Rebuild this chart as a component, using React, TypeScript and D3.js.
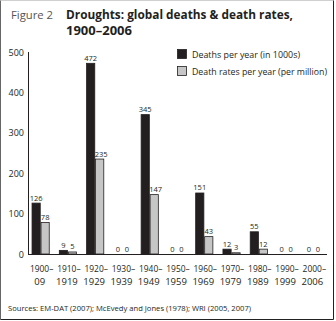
import React from "react";
import * as d3 from "d3";

const periodsTop = ["1900–", "1910–", "1920–", "1930–", "1940–", "1950–", "1960–", "1970–", "1980–", "1990–", "2000–"];
const periodsBottom = ["09", "1919", "1929", "1939", "1949", "1959", "1969", "1979", "1989", "1999", "2006"];
const deaths = [126, 9, 472, 0, 345, 0, 151, 12, 55, 0, 0];
const rates = [78, 5, 235, 0, 147, 0, 43, 3, 12, 0, 0];
const yTicks = [0, 100, 200, 300, 400, 500];
const seriesNames = ["Deaths per year (in 1000s)", "Death rates per year (per million)"];

const W = 336, H = 321;
const FONT = "'Open Sans', 'Noto Sans', sans-serif";

export default function App() {
  const x = d3.scaleBand<number>().domain(d3.range(periodsTop.length)).range([27, 327]).paddingInner(0.34).paddingOuter(0.17);
  const inner = d3.scaleBand<number>().domain([0, 1]).range([0, x.bandwidth()]);
  const y = d3.scaleLinear().domain([0, 500]).range([254, 52]);
  const series = [deaths, rates];
  const fills = ["#231f20", "#c6c6c6"];

  return (
    <svg width={W} height={H} style={{ position: "absolute", left: 0, top: 0, background: "#fff" }} fontFamily={FONT}>
      {/* frame */}
      <line x1={0.5} y1={0.5} x2={333.5} y2={0.5} stroke="#d0d0d0" />
      <line x1={0.5} y1={0.5} x2={0.5} y2={319.5} stroke="#666" />
      <line x1={333.5} y1={0.5} x2={333.5} y2={319.5} stroke="#222" />
      <line x1={0.5} y1={319.5} x2={333.5} y2={319.5} stroke="#222" />

      {/* title */}
      <text x={11} y={18.5} fontSize={11.5} fill="#555" textLength={42} lengthAdjust="spacingAndGlyphs">Figure 2</text>
      <text x={66} y={18.5} fontSize={11.5} fontWeight="bold" fill="#231f20" textLength={227} lengthAdjust="spacingAndGlyphs">Droughts: global deaths &amp; death rates,</text>
      <text x={66} y={34.5} fontSize={11.5} fontWeight="bold" fill="#231f20" textLength={66} lengthAdjust="spacingAndGlyphs">1900–2006</text>

      {/* legend */}
      {seriesNames.map((n, i) => (
        <g key={n}>
          <rect x={177.5} y={49.5 + i * 17} width={9} height={9} fill={fills[i]} stroke="#231f20" strokeWidth={0.8} />
          <text x={192} y={57.5 + i * 17} fontSize={9} fill="#231f20" textLength={i === 0 ? 108 : 135} lengthAdjust="spacingAndGlyphs">{n}</text>
        </g>
      ))}

      {/* y axis */}
      <line x1={28.5} y1={y(500)} x2={28.5} y2={y(0)} stroke="#231f20" strokeWidth={1} />
      <line x1={28} y1={y(0) + 0.5} x2={327} y2={y(0) + 0.5} stroke="#231f20" strokeWidth={1} />
      {yTicks.map((t) => (
        <text key={t} x={24} y={y(t) + 3.5} fontSize={9} textAnchor="end" fill="#231f20">{t}</text>
      ))}

      {/* bars */}
      {periodsTop.map((p, i) => (
        <g key={p} transform={`translate(${x(i)},0)`}>
          {series.map((s, j) => {
            const v = s[i];
            const bx = inner(j)!;
            const bw = inner.bandwidth();
            return v > 0 ? (
              <rect key={j} x={bx + 0.4} y={y(v)} width={bw - 0.8} height={y(0) - y(v)} fill={fills[j]} stroke="#231f20" strokeWidth={0.8} />
            ) : null;
          })}
          {series.map((s, j) => {
            const v = s[i];
            const bx = inner(j)!;
            const bw = inner.bandwidth();
            return (
              <text key={"l" + j} x={bx + bw / 2 + (j === 1 && v >= 100 ? 1.5 : 0)} y={y(v) - 2.5} fontSize={7.5} textAnchor="middle" fill="#231f20">{v}</text>
            );
          })}
          <text x={x.bandwidth() / 2 + 1} y={272} fontSize={9.5} textAnchor="middle" fill="#231f20" textLength={23.5} lengthAdjust="spacingAndGlyphs">{p}</text>
          <text x={x.bandwidth() / 2 - 1} y={285} fontSize={9.5} textAnchor="middle" fill="#231f20">{periodsBottom[i]}</text>
        </g>
      ))}

      {/* source */}
      <text x={8} y={311} fontSize={8} fill="#231f20" textLength={243} lengthAdjust="spacingAndGlyphs">Sources: EM-DAT (2007); McEvedy and Jones (1978); WRI (2005, 2007)</text>
    </svg>
  );
}
